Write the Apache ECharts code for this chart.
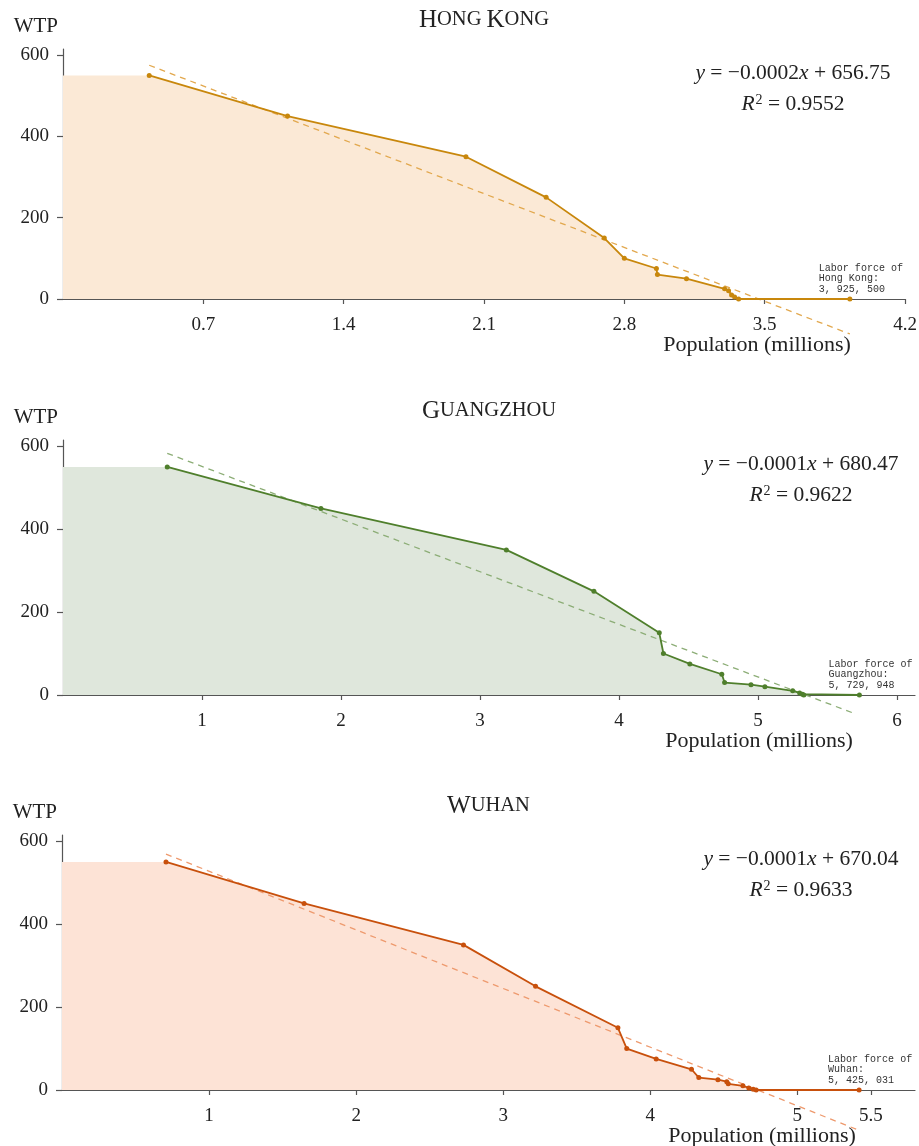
<!DOCTYPE html>
<html>
<head>
<meta charset="utf-8">
<script src="https://cdn.jsdelivr.net/npm/echarts@6/dist/echarts.min.js"></script>
<style>
  html, body { margin: 0; padding: 0; background: #fff; }
  #main { width: 919px; height: 1146px; }
</style>
</head>
<body>
<div id="main"></div>
<script>
// 数据 (population in millions, WTP)
const hkPop = [0.43, 1.12, 2.01, 2.41, 2.70, 2.80, 2.96, 2.965, 3.11, 3.30, 3.32, 3.335, 3.35, 3.37, 3.925];
const hkWtp = [550, 450, 350, 250, 150, 100, 75, 60, 50, 25, 20, 10, 5, 0, 0];
const hkTrend = [[0.43, 575], [3.925, -86]];
const hkTicks = [0.7, 1.4, 2.1, 2.8, 3.5, 4.2];

const gzPop = [0.75, 1.856, 3.19, 3.82, 4.29, 4.32, 4.51, 4.74, 4.76, 4.95, 5.05, 5.25, 5.30, 5.32, 5.33, 5.73];
const gzWtp = [550, 450, 350, 250, 150, 100, 75, 50, 30, 25, 20, 10, 5, 2, 0, 0];
const gzTrend = [[0.75, 583], [5.705, -46]];
const gzTicks = [1, 2, 3, 4, 5, 6];

const whPop = [0.707, 1.646, 2.73, 3.22, 3.78, 3.84, 4.04, 4.28, 4.33, 4.46, 4.52, 4.53, 4.63, 4.67, 4.70, 4.72, 5.42];
const whWtp = [550, 450, 350, 250, 150, 100, 75, 50, 30, 25, 20, 15, 10, 5, 2, 0, 0];
const whTrend = [[0.707, 569], [5.41, -96]];
const whTicks = [1, 2, 3, 4, 5, 5.5];

const wtpTicks = [0, 200, 400, 600];

const serif = '"Liberation Serif", "DejaVu Serif", serif';
const mono = '"Liberation Mono", "DejaVu Sans Mono", monospace';
const axisColor = '#555';

const panels = [
  {
    title: ['H', 'ONG', ' ', 'K', 'ONG'],
    pop: hkPop, wtp: hkWtp, trend: hkTrend, ticks: hkTicks, xMax: 4.2,
    grid: {left: 63, top: 49, width: 842, height: 250},
    line: '#c8870c', dash: '#e2a84e', fill: '#fbe9d6',
    eq: ['y', ' = −0.0002', 'x', ' + 656.75'], r2: '0.9552',
    labor: 'Labor force of\nHong Kong:\n3, 925, 500',
    nameGap: -148, eqX: 793
  },
  {
    title: ['G', 'UANGZHOU'],
    pop: gzPop, wtp: gzWtp, trend: gzTrend, ticks: gzTicks, xMax: 6.13,
    grid: {left: 63, top: 440, width: 852, height: 255},
    line: '#4f7f2c', dash: '#8cad76', fill: '#dfe7dc',
    eq: ['y', ' = −0.0001', 'x', ' + 680.47'], r2: '0.9622',
    labor: 'Labor force of\nGuangzhou:\n5, 729, 948',
    nameGap: -156, eqX: 801
  },
  {
    title: ['W', 'UHAN'],
    pop: whPop, wtp: whWtp, trend: whTrend, ticks: whTicks, xMax: 5.8,
    grid: {left: 62, top: 835, width: 853, height: 255},
    line: '#c8500c', dash: '#ee9a6e', fill: '#fde3d6',
    eq: ['y', ' = −0.0001', 'x', ' + 670.04'], r2: '0.9633',
    labor: 'Labor force of\nWuhan:\n5, 425, 031',
    nameGap: -153, eqX: 801
  }
];

const option = {
  animation: false,
  grid: [], xAxis: [], yAxis: [], series: [], graphic: []
};

panels.forEach((p, i) => {
  option.grid.push(Object.assign({containLabel: false, outerBoundsMode: 'none'}, p.grid));

  option.xAxis.push({
    gridIndex: i, type: 'value', min: 0, max: p.xMax,
    name: 'Population (millions)', nameLocation: 'end', nameGap: p.nameGap,
    nameMoveOverlap: false,
    nameTextStyle: {fontFamily: serif, fontSize: 22, color: '#222', align: 'center',
      verticalAlign: 'top', padding: [35, 0, 0, 0]},
    axisLine: {onZero: false, lineStyle: {color: axisColor, width: 1.2}},
    axisTick: {show: true, length: 5, customValues: p.ticks, lineStyle: {color: axisColor, width: 1.2}},
    axisLabel: {customValues: p.ticks, fontFamily: serif, fontSize: 19, color: '#222', margin: 17,
      formatter: v => String(v)},
    splitLine: {show: false}
  });

  option.yAxis.push({
    gridIndex: i, type: 'value', min: 0, max: 615,
    name: 'WTP', nameLocation: 'end', nameGap: 12,
    nameMoveOverlap: false,
    nameTextStyle: {fontFamily: serif, fontSize: 21, color: '#222', align: 'right',
      verticalAlign: 'bottom', padding: [0, 5, 0, 0]},
    axisLine: {show: true, lineStyle: {color: axisColor, width: 1.2}},
    axisTick: {show: true, length: 6, customValues: wtpTicks, lineStyle: {color: axisColor, width: 1.2}},
    axisLabel: {customValues: wtpTicks, fontFamily: serif, fontSize: 19, color: '#222', margin: 14},
    splitLine: {show: false}
  });

  const pts = p.pop.map((x, k) => [x, p.wtp[k]]);
  const fillPts = [[0, p.wtp[0]]].concat(pts);

  // 填充区域
  option.series.push({
    type: 'line', xAxisIndex: i, yAxisIndex: i, data: fillPts,
    symbol: 'none', silent: true, z: 1,
    lineStyle: {width: 0}, areaStyle: {color: p.fill, opacity: 1}
  });

  // 趋势线
  option.series.push({
    type: 'line', xAxisIndex: i, yAxisIndex: i, data: p.trend,
    symbol: 'none', silent: true, clip: false, z: 2,
    lineStyle: {color: p.dash, width: 1.3, type: [6, 5]}
  });

  // 需求曲线
  const data = pts.map((d, k) => {
    if (k === pts.length - 1) {
      return {
        value: d,
        label: {
          show: true, position: 'top', align: 'left', verticalAlign: 'bottom',
          offset: [-31, 0], distance: 2,
          formatter: p.labor, fontFamily: mono, fontSize: 10, lineHeight: 10.5, color: '#333'
        }
      };
    }
    return d;
  });
  option.series.push({
    type: 'line', xAxisIndex: i, yAxisIndex: i, data: data,
    symbol: 'circle', symbolSize: 5, silent: true, z: 3,
    itemStyle: {color: p.line},
    lineStyle: {color: p.line, width: 1.8}
  });

  // 标题 (small caps)
  const titleText = p.title.map((t, k) => {
    if (t === ' ') return '{b| }';
    return (t.length === 1 && (k === 0 || p.title[k - 1] === ' ')) ? '{a|' + t + '}' : '{b|' + t + '}';
  }).join('');
  option.graphic.push({
    type: 'text', silent: true,
    x: p.grid.left + p.grid.width / 2, y: p.grid.top - 29,
    style: {
      text: titleText, align: 'center', verticalAlign: 'middle',
      rich: {
        a: {fontFamily: serif, fontSize: 25, fill: '#222'},
        b: {fontFamily: serif, fontSize: 20.5, fill: '#222'}
      }
    }
  });

  // 回归方程
  option.graphic.push({
    type: 'text', silent: true,
    x: p.eqX, y: p.grid.top + 24,
    style: {
      text: '{i|' + p.eq[0] + '}{n|' + p.eq[1] + '}{i|' + p.eq[2] + '}{n|' + p.eq[3] + '}',
      align: 'center', verticalAlign: 'middle',
      rich: {
        i: {fontFamily: serif, fontSize: 21.5, fontStyle: 'italic', fill: '#222'},
        n: {fontFamily: serif, fontSize: 21.5, fill: '#222'}
      }
    }
  });
  option.graphic.push({
    type: 'text', silent: true,
    x: p.eqX, y: p.grid.top + 55,
    style: {
      text: '{i|R}{s|2}{n| = ' + p.r2 + '}',
      align: 'center', verticalAlign: 'middle',
      rich: {
        i: {fontFamily: serif, fontSize: 21.5, fontStyle: 'italic', fill: '#222'},
        s: {fontFamily: serif, fontSize: 14, fill: '#222', verticalAlign: 'top', padding: [0, 0, 8, 1]},
        n: {fontFamily: serif, fontSize: 21.5, fill: '#222'}
      }
    }
  });
});

const chart = echarts.init(document.getElementById('main'));
chart.setOption(option);
</script>
</body>
</html>
